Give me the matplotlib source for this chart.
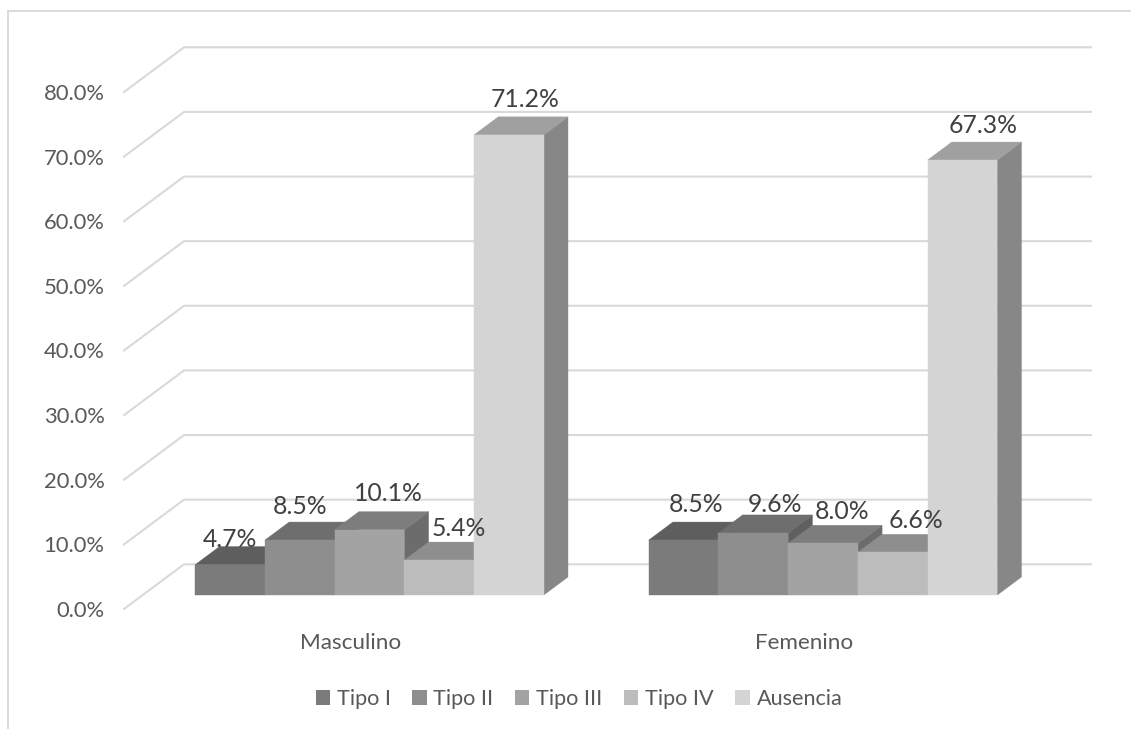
import matplotlib
matplotlib.use("Agg")
import matplotlib.pyplot as plt
from matplotlib.lines import Line2D
from matplotlib.patches import Patch, Polygon
import numpy as np

# Prevalence by type and sex, in percent
categories = ["Masculino", "Femenino"]
series_names = ["Tipo I", "Tipo II", "Tipo III", "Tipo IV", "Ausencia"]
tipo_i = [4.7, 8.5]
tipo_ii = [8.5, 9.6]
tipo_iii = [10.1, 8.0]
tipo_iv = [5.4, 6.6]
ausencia = [71.2, 67.3]
y_ticks = [0, 10, 20, 30, 40, 50, 60, 70, 80]

series_values = [tipo_i, tipo_ii, tipo_iii, tipo_iv, ausencia]
front_colors = ["#7B7B7B", "#8E8E8E", "#A3A3A3", "#BCBCBC", "#D4D4D4"]
top_colors = ["#5E5E5E", "#6E6E6E", "#7D7D7D", "#8E8E8E", "#A0A0A0"]
side_colors = ["#535353", "#606060", "#6C6C6C", "#7A7A7A", "#878787"]

plt.rcParams["font.family"] = ["Lato", "DejaVu Sans"]

W, H, DPI = 1131, 729, 100
fig = plt.figure(figsize=(W / DPI, H / DPI), dpi=DPI, facecolor="white")

# The axes rectangle is the front plane of the oblique 3D box
PX_LEFT, PX_RIGHT, PX_ZERO, PX_TOP = 124, 1031, 609, 92
ax = fig.add_axes([PX_LEFT / W, 1 - PX_ZERO / H,
                   (PX_RIGHT - PX_LEFT) / W, (PX_ZERO - PX_TOP) / H])
ax.set_xlim(-0.5, 1.5)
ax.set_ylim(0, 80)
ax.patch.set_visible(False)
for spine in ax.spines.values():
    spine.set_visible(False)

px_per_x = (PX_RIGHT - PX_LEFT) / 2
px_per_y = (PX_ZERO - PX_TOP) / 80
DEPTH_X = 60 / px_per_x
DEPTH_Y = 44.7 / px_per_y


def project(x, v, d):
    """Oblique projection of (x, value, depth) on to the front plane."""
    return x + d * DEPTH_X, v + d * DEPTH_Y


GRID = "#D9D9D9"
for v in y_ticks:
    pts = [project(-0.5, v, 0), project(-0.5, v, 1), project(1.5, v, 1)]
    ax.plot(*zip(*pts), color=GRID, lw=1.5, clip_on=False, zorder=1,
            solid_joinstyle="miter")

BAR_W = 69.7 / px_per_x
D0, D1 = 0.313, 0.716


def face(pts, color, z):
    ax.add_patch(Polygon([project(*p) for p in pts], closed=True, facecolor=color,
                         edgecolor=color, lw=0.3, clip_on=False, zorder=z))


z = 2.0
for g in range(len(categories)):
    for s, values in enumerate(series_values):
        v = values[g]
        x0 = g + (s - 2.5) * BAR_W
        x1 = x0 + BAR_W
        face([(x1, 0, D0), (x1, 0, D1), (x1, v, D1), (x1, v, D0)], side_colors[s], z)
        face([(x0, v, D0), (x1, v, D0), (x1, v, D1), (x0, v, D1)], top_colors[s], z + 0.01)
        face([(x0, 0, D0), (x1, 0, D0), (x1, v, D0), (x0, v, D0)], front_colors[s], z + 0.02)
        z += 0.1

# Value labels, shifted off the bar tops (pixels)
label_shift = [
    [(0, 25.5), (12, 35.5)],
    [(0, 33.5), (22, 28.5)],
    [(19, 36.5), (19, 31.5)],
    [(20, 31.5), (23, 31.5)],
    [(16, 35.5), (21, 34.5)],
]
for s, values in enumerate(series_values):
    for g, v in enumerate(values):
        cx = g + (s - 2) * BAR_W
        ax.annotate(f"{v:.1f}%", project(cx, v, D0), xytext=label_shift[s][g],
                    textcoords="offset pixels", ha="center", va="center",
                    fontsize=17.8, color="#404040", zorder=10, annotation_clip=False)

ax.set_yticks(y_ticks)
ax.set_yticklabels([f"{v:.1f}%" for v in y_ticks])
ax.set_xticks([0, 1])
ax.set_xticklabels(categories)
ax.tick_params(axis="y", length=0, pad=14, labelsize=15.8, labelcolor="#595959")
ax.tick_params(axis="x", length=0, pad=17, labelsize=16.2, labelcolor="#595959")

handles = [Patch(facecolor=c, edgecolor="none") for c in front_colors]
fig.legend(handles, series_names, loc="center", bbox_to_anchor=(579 / W, 1 - 699 / H),
           ncols=5, frameon=False, fontsize=15.6, labelcolor="#595959",
           handlelength=0.65, handleheight=0.65, handletextpad=0.32,
           columnspacing=1.0, borderpad=0)

# Chart-area border: only the top and left edges fall inside the frame
for xs, ys in [((7.5, 7.5), (H, 10.5)), ((7.5, W), (10.5, 10.5))]:
    fig.add_artist(Line2D([x / W for x in xs], [1 - y / H for y in ys],
                          color="#D9D9D9", lw=1.3))

fig.savefig("out.png", dpi=DPI)
